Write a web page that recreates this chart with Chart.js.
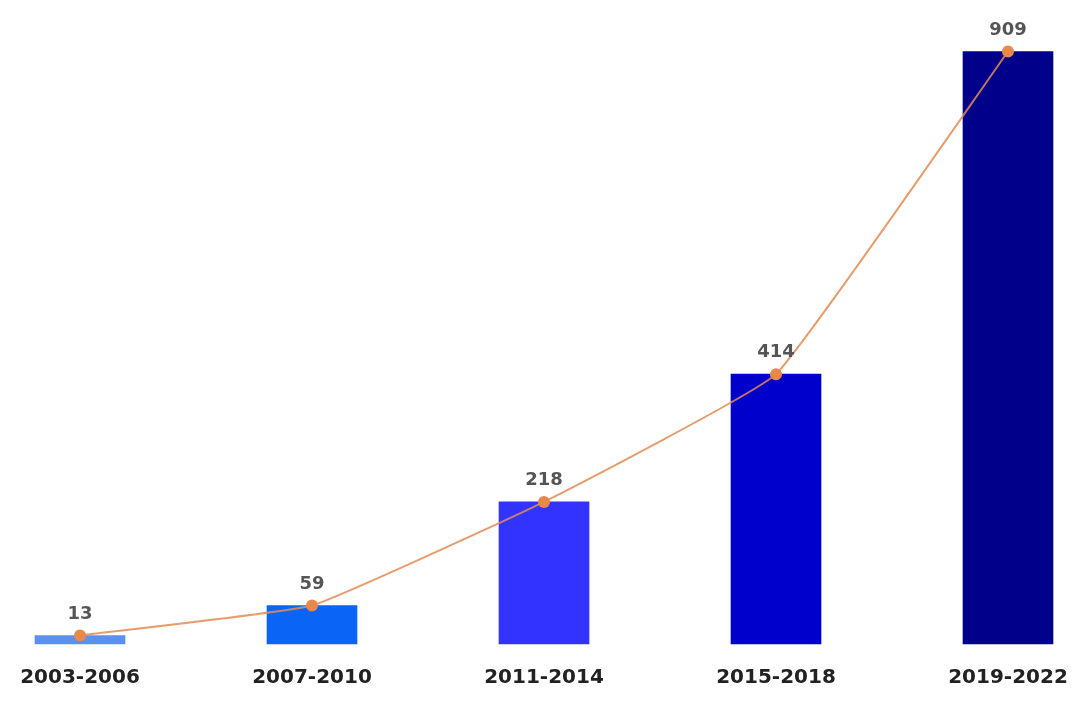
<!DOCTYPE html>
<html>
<head>
<meta charset="utf-8">
<script src="https://cdn.jsdelivr.net/npm/chart.js@4/dist/chart.umd.min.js"></script>
<style>
  html, body { margin: 0; padding: 0; background: #fff; }
  #wrap { width: 1092px; height: 707px; position: relative; }
</style>
</head>
<body>
<div id="wrap"><canvas id="c" width="1092" height="707"></canvas></div>
<script>
const categories = ["2003-2006", "2007-2010", "2011-2014", "2015-2018", "2019-2022"];
const counts = [13, 59, 218, 414, 909];
const barColors = ["#5B8FF0", "#0A64F5", "#3333FF", "#0000CC", "#00008B"];

const valueLabels = {
  id: 'valueLabels',
  afterDatasetsDraw(chart) {
    const ctx = chart.ctx;
    const meta = chart.getDatasetMeta(0);
    ctx.save();
    ctx.font = 'bold 18px "DejaVu Sans"';
    ctx.fillStyle = '#555555';
    ctx.textAlign = 'center';
    ctx.textBaseline = 'alphabetic';
    meta.data.forEach((pt, i) => {
      ctx.fillText(String(counts[i]), pt.x, pt.y - 17);
    });
    ctx.restore();
  }
};

new Chart(document.getElementById('c'), {
  data: {
    labels: categories,
    datasets: [
      {
        type: 'line',
        data: counts,
        order: 0,
        borderColor: 'rgba(226,140,85,0.85)',
        borderWidth: 2,
        tension: 0.1,
        pointRadius: 6,
        pointBackgroundColor: '#E8894A',
        pointBorderWidth: 0,
        clip: false
      },
      {
        type: 'bar',
        data: counts,
        order: 1,
        backgroundColor: barColors,
        barThickness: 90,
        clip: false
      }
    ]
  },
  options: {
    responsive: false,
    animation: false,
    layout: { padding: { left: 80, right: 84, top: 15, bottom: 3 } },
    plugins: { legend: { display: false }, tooltip: { enabled: false } },
    scales: {
      x: {
        offset: false,
        grid: { display: false },
        border: { display: false },
        ticks: {
          color: '#222222',
          font: { family: 'DejaVu Sans', size: 20, weight: 'bold' },
          padding: 14,
          maxRotation: 0,
          autoSkip: false
        }
      },
      y: {
        display: false,
        min: 0,
        max: 965
      }
    }
  },
  plugins: [valueLabels]
});
</script>
</body>
</html>
